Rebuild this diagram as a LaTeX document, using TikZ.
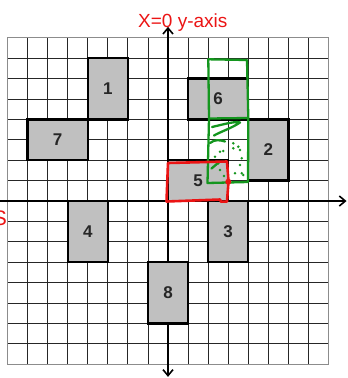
\documentclass[tikz,border=0pt]{standalone}
\usepackage{fontspec}
\setmainfont{Liberation Sans}
\usetikzlibrary{arrows.meta}
\definecolor{boxgray}{RGB}{192,192,192}
\definecolor{inkred}{RGB}{235,20,20}
\definecolor{inkgreen}{RGB}{20,150,30}
\tikzset{
  gridline/.style  ={draw=black!85,line width=0.8pt},
  gridframe/.style ={draw=black!45,line width=1.2pt},
  axisline/.style  ={draw=black,line width=1.6pt},
  axistip/.style   ={-{Straight Barb[length=6pt,width=10pt]}},
  piece/.style     ={draw=black,line width=2.4pt,fill=boxgray},
  piecelabel/.style={font=\fontsize{17}{17}\selectfont\bfseries,text=black!85},
  redink/.style    ={draw=inkred,line width=2.6pt,line cap=round,line join=round},
  greenink/.style  ={draw=inkgreen,line width=2.3pt,line cap=round,line join=round},
  handtext/.style  ={text=inkred,font=\fontsize{19}{19}\selectfont,inner sep=0pt},
}

\begin{document}
\begin{tikzpicture}[x=20.06pt,y=20.4pt]
  \useasboundingbox (-8.375,-8.676) rectangle (8.923,9.853);
  % grid
  \foreach \k in {-7,...,7}{
    \draw[gridline] (\k,-8) -- (\k,8);
    \draw[gridline] (-8,\k) -- (8,\k);
  }
  \draw[gridframe] (-8,-8) rectangle (8,8);
  % axes
  \coordinate (origin) at (0,0);
  \coordinate (ytop) at (0,8.54);
  \coordinate (ybot) at (0,-8.62);
  \coordinate (xleft) at (-8.4,0);
  \coordinate (xright) at (8.9,0);
  \draw[axisline,axistip] (origin) -- (ytop);
  \draw[axisline,axistip] (origin) -- (ybot);
  \draw[axisline,axistip] (xleft) -- (xright);
  % pieces
  \foreach \name/\xa/\ya/\xb/\yb in {1/-4/4/-2/7,2/4/1/6/4,3/2/-3/4/0,4/-5/-3/-3/0,
                                     5/0/0/3/2,6/1/4/4/6,7/-7/2/-4/4,8/-1/-6/1/-3}{
    \draw[piece] (\xa,\ya) rectangle (\xb,\yb);
    \node[piecelabel] (p\name) at ({(\xa+\xb)/2},{(\ya+\yb)/2}) {\name};
  }
  % handwritten marks, in pixels from the top left corner
  \begin{scope}[shift={(-8.375,9.853)},x=1pt,y=-1pt]
    \draw[greenink] (208.3,59.3) -- (247,60) -- (248.3,118.5) -- (248,182)
                    -- (207.5,183) -- (209,118.5) -- cycle;
    \draw[greenink] (209,118.5) -- (248.3,118);
    \draw[greenink] (212,127) .. controls (225,124) and (235,121) .. (240,122.5)
                    .. controls (232,128) and (220,132) .. (214,135.5);
    \draw[greenink] (210,143) .. controls (215,139) and (220,140) .. (225,141.5);
    \draw[greenink] (211.5,168.5) -- (218,163);
    \foreach \p in {(233.3,143.3),(238.3,146.7),(233.3,148.3),(240,150),(220,151.7),
                    (223.3,151),(241.7,158.3),(215,156.7),(218.3,163.3),(225,161.7),
                    (220,170),(240,165),(241.7,173.3),(235,173.3),(243.3,175),(224,176)}
      \fill[inkgreen] \p circle (1.4pt);
    \draw[redink] (168,163) -- (227,161.5) -- (228.5,181.5) -- (227,201.5)
                  -- (221,201.7) -- (220,199.5) -- (166.5,201.5) -- cycle;
    \fill[inkred] (228.3,181.7) circle (3pt);
    \node[handtext,anchor=base west] (ylabel) at (138,27.3) {X=0 y-axis};
    \node[handtext,anchor=base east,font=\fontsize{21}{21}\selectfont] (xlabel) at (7,225) {S};
  \end{scope}
\end{tikzpicture}
\end{document}
